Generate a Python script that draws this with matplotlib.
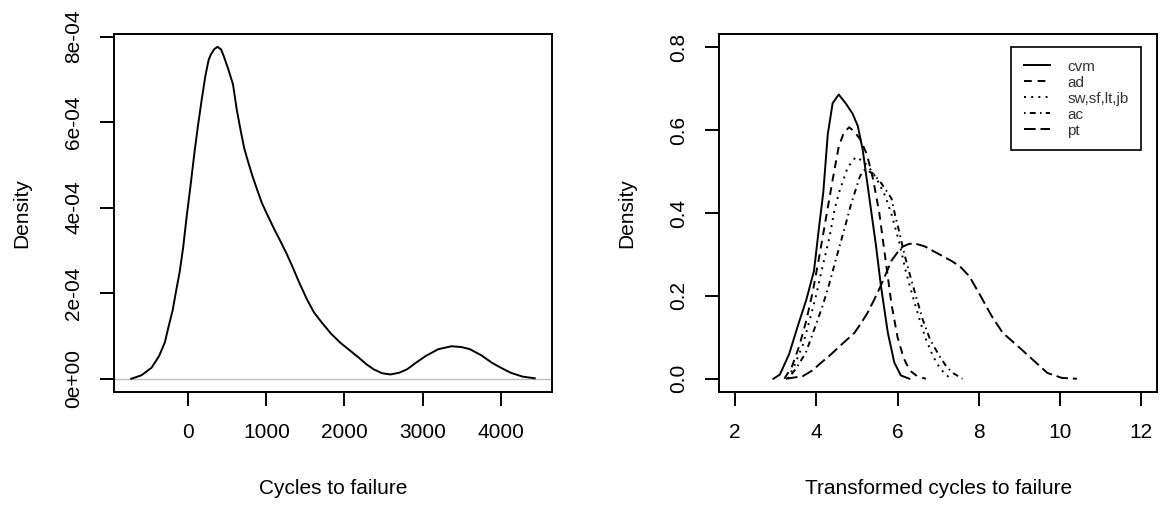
import matplotlib
matplotlib.use("Agg")
import matplotlib.pyplot as plt

plt.rcParams['font.family'] = ['Liberation Sans', 'DejaVu Sans']

# left panel: density of raw cycles to failure
cycles_x = [-730, -600, -469, -374, -300, -256, -200, -161, -110, -66, -20, 28, 80, 123,
            170, 218, 260, 289, 330, 374, 420, 455, 510, 573, 620, 668, 715, 763, 820,
            882, 940, 1000, 1100, 1190, 1260, 1332, 1420, 1521, 1610, 1711, 1830, 1948,
            2070, 2185, 2280, 2374, 2480, 2588, 2700, 2801, 2920, 3038, 3200, 3370, 3500,
            3607, 3750, 3891, 4000, 4128, 4280, 4436]
cycles_d = [0.0, 0.08, 0.26, 0.53, 0.85, 1.19, 1.6, 2.0, 2.5, 3.06, 3.8, 4.5, 5.3, 5.9,
            6.5, 7.07, 7.45, 7.58, 7.7, 7.76, 7.7, 7.54, 7.25, 6.88, 6.3, 5.83, 5.4, 5.09,
            4.75, 4.42, 4.12, 3.88, 3.5, 3.18, 2.92, 2.63, 2.25, 1.85, 1.55, 1.31, 1.05,
            0.84, 0.66, 0.49, 0.34, 0.22, 0.13, 0.10, 0.14, 0.22, 0.38, 0.53, 0.69, 0.76,
            0.74, 0.69, 0.55, 0.37, 0.26, 0.14, 0.05, 0.01]  # x 1e-4
left_xticks = [0, 1000, 2000, 3000, 4000]
left_yticks = [0, 2e-4, 4e-4, 6e-4, 8e-4]
left_ylabels = ["0e+00", "2e-04", "4e-04", "6e-04", "8e-04"]

# right panel: densities of transformed cycles
cvm_x = [2.94, 3.1, 3.33, 3.55, 3.75, 3.94, 4.07, 4.17, 4.28, 4.40, 4.55, 4.72, 4.89,
         5.02, 5.14, 5.30, 5.47, 5.59, 5.76, 5.92, 6.08, 6.29]
cvm_y = [0, 0.01, 0.06, 0.13, 0.19, 0.26, 0.37, 0.45, 0.59, 0.665, 0.686, 0.665, 0.64,
         0.61, 0.553, 0.44, 0.32, 0.224, 0.111, 0.039, 0.008, 0.0]
ad_x = [3.21, 3.4, 3.58, 3.75, 3.91, 4.08, 4.24, 4.40, 4.55, 4.68, 4.81, 4.95, 5.09,
        5.25, 5.40, 5.55, 5.70, 5.85, 6.0, 6.15, 6.30, 6.50, 6.70]
ad_y = [0, 0.03, 0.08, 0.14, 0.21, 0.30, 0.39, 0.48, 0.56, 0.595, 0.607, 0.595, 0.576,
        0.54, 0.48, 0.40, 0.29, 0.18, 0.10, 0.05, 0.02, 0.005, 0]
sw_x = [3.30, 3.45, 3.66, 3.83, 3.99, 4.15, 4.32, 4.45, 4.56, 4.77, 4.97, 5.15, 5.30,
        5.50, 5.70, 5.84, 6.04, 6.20, 6.37, 6.55, 6.70, 6.87, 7.03, 7.18, 7.33]
sw_y = [0, 0.03, 0.08, 0.14, 0.20, 0.27, 0.34, 0.41, 0.45, 0.51, 0.535, 0.525, 0.51,
        0.48, 0.44, 0.40, 0.33, 0.26, 0.20, 0.14, 0.095, 0.055, 0.028, 0.01, 0]
ac_x = [3.30, 3.50, 3.74, 3.95, 4.15, 4.32, 4.48, 4.60, 4.73, 4.85, 4.97, 5.06, 5.14,
        5.22, 5.30, 5.40, 5.59, 5.75, 5.85, 5.95, 6.04, 6.17, 6.29, 6.45, 6.62, 6.80,
        7.03, 7.20, 7.36, 7.60]
ac_y = [0, 0.025, 0.063, 0.12, 0.175, 0.23, 0.288, 0.33, 0.376, 0.42, 0.457, 0.485,
        0.501, 0.505, 0.50, 0.495, 0.473, 0.45, 0.435, 0.39, 0.355, 0.30, 0.256, 0.20,
        0.143, 0.095, 0.055, 0.03, 0.014, 0]
pt_x = [3.25, 3.66, 3.90, 4.12, 4.35, 4.58, 4.76, 4.94, 5.10, 5.26, 5.42, 5.58, 5.72,
        5.85, 6.0, 6.13, 6.27, 6.40, 6.55, 6.68, 6.90, 7.13, 7.35, 7.54, 7.77, 8.05,
        8.32, 8.59, 8.96, 9.32, 9.69, 10.05, 10.42]
pt_y = [0, 0.006, 0.02, 0.039, 0.058, 0.079, 0.095, 0.111, 0.134, 0.159, 0.19, 0.223,
        0.255, 0.285, 0.305, 0.319, 0.325, 0.327, 0.323, 0.319, 0.307, 0.295, 0.283,
        0.271, 0.247, 0.199, 0.151, 0.111, 0.079, 0.047, 0.014, 0.002, 0]
right_xticks = [2, 4, 6, 8, 10, 12]
right_yticks = [0.0, 0.2, 0.4, 0.6, 0.8]
right_ylabels = ["0.0", "0.2", "0.4", "0.6", "0.8"]

series = [
    ("cvm", cvm_x, cvm_y, None),
    ("ad", ad_x, ad_y, (4, 3)),
    ("sw,sf,lt,jb", sw_x, sw_y, (1, 2.7)),
    ("ac", ac_x, ac_y, (0.8, 2.2, 3, 2.2)),
    ("pt", pt_x, pt_y, (6, 2.5)),
]

W, H = 1163, 507
fig = plt.figure(figsize=(W / 100, H / 100), dpi=100)
ax1 = fig.add_axes([114 / W, (H - 392) / H, 438.3 / W, 358 / H])
ax2 = fig.add_axes([719 / W, (H - 392) / H, 438.3 / W, 358 / H])

def r_limits(lo, hi):
    pad = 0.04 * (hi - lo)
    return lo - pad, hi + pad

def style(ax, xlabel):
    for s in ax.spines.values():
        s.set_linewidth(1.4)
    ax.tick_params(direction='out', length=10, width=1.4, pad=12, labelsize=15)
    plt.setp(ax.get_yticklabels(), rotation=90, va='center')
    ax.set_xlabel(xlabel, fontsize=15, va='center')
    ax.xaxis.set_label_coords(0.5, (392 - 488) / 358)
    ax.set_ylabel("Density", fontsize=15, va='center')
    ax.yaxis.set_label_coords(-0.21, 0.5)

# left
lw = 1.4
ax1.axhline(0, color='#BEBEBE', lw=1.0, zorder=1)
ax1.plot(cycles_x, [d * 1e-4 for d in cycles_d], color='black', lw=lw, zorder=2)
ax1.set_xlim(*r_limits(-743, 4453))
ax1.set_ylim(*r_limits(0, 7.75e-4))
ax1.set_xticks(left_xticks)
ax1.set_yticks(left_yticks)
ax1.set_yticklabels(left_ylabels)
style(ax1, "Cycles to failure")

# right
for name, xs, ys, dash in series:
    line, = ax2.plot(xs, ys, color='black', lw=lw, label=name)
    if dash is not None:
        line.set_dashes(dash)
ax2.set_xlim(*r_limits(2, 12))
ax2.set_ylim(*r_limits(0, 0.8))
ax2.set_xticks(right_xticks)
ax2.set_yticks(right_yticks)
ax2.set_yticklabels(right_ylabels)
style(ax2, "Transformed cycles to failure")

leg = ax2.legend(loc='upper right', bbox_to_anchor=(12, 0.8), bbox_transform=ax2.transData,
                 borderaxespad=0, fancybox=False, framealpha=1, edgecolor='black',
                 fontsize=11, labelspacing=0.13, handlelength=1.76, handletextpad=1.1,
                 borderpad=0.82)
leg.get_frame().set_linewidth(1.2)
for t in leg.get_texts():
    t.set_color('#333333')

fig.savefig("out.png", dpi=100)
